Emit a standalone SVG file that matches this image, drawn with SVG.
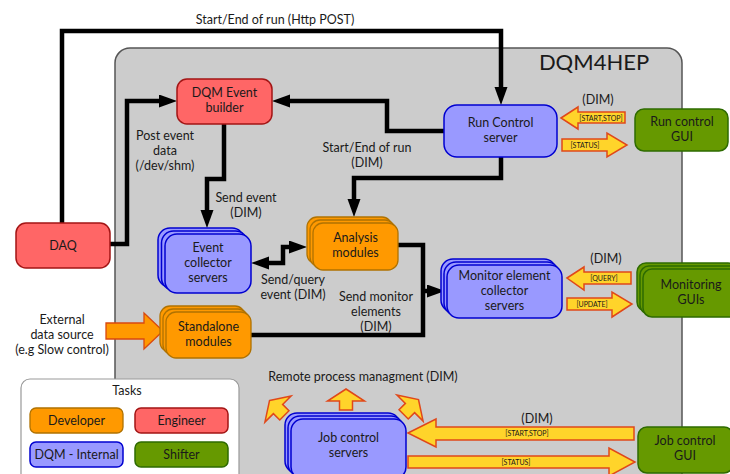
<svg xmlns="http://www.w3.org/2000/svg" width="730" height="474" viewBox="0 0 730 474">
<style>
text{font-family:Lato,"Open Sans","DejaVu Sans",sans-serif;font-size:12.5px;fill:#1a1a1a;text-anchor:middle}
.tiny{font-size:7px}
.red{fill:#ff6666;stroke:#a31515;stroke-width:1.5}
.blue{fill:#9999ff;stroke:#0000d0;stroke-width:1.5}
.orange{fill:#ff9900;stroke:#b07200;stroke-width:1.3}
.green{fill:#669900;stroke:#2e6b00;stroke-width:1.5}
.yarrow{fill:#ffd42a;stroke:#e0481a;stroke-width:1.5;stroke-linejoin:miter}
.conn{fill:none;stroke:#000;stroke-width:4.5;stroke-linejoin:miter}
</style>
<defs>
<marker id="ah" markerUnits="userSpaceOnUse" markerWidth="20" markerHeight="14" refX="8" refY="6.5" orient="auto-start-reverse">
<path d="M0,0 L18,6.5 L0,13 z" fill="#000"/>
</marker>
</defs>
<rect width="730" height="474" fill="#fff"/>
<g id="container">
<rect x="115" y="48" width="567" height="440" rx="15" fill="#cccccc" stroke="#555" stroke-width="1.5"/>
<text x="594" y="70" style="font-size:22px">DQM4HEP</text>
</g>
<g id="connectors">
<path class="conn" d="M62,223 V31 H501 V95" marker-end="url(#ah)"/>
<path class="conn" d="M110,244 H127 V101 H167" marker-end="url(#ah)"/>
<path class="conn" d="M444,131 H387 V101 H282" marker-end="url(#ah)"/>
<path class="conn" d="M501,157 V178 H354 V207" marker-end="url(#ah)"/>
<path class="conn" d="M224,124 V179 H207 V218" marker-end="url(#ah)"/>
<path class="conn" d="M261,263 H283 V247 H297" marker-start="url(#ah)" marker-end="url(#ah)"/>
<path class="conn" d="M398,245 H423 V335 H251"/>
<path class="conn" d="M421,291 H435" marker-end="url(#ah)"/>
</g>
<g id="labels">
<text x="275" y="24">Start/End of run (Http POST)</text>
<text x="165" y="140">Post event</text>
<text x="165" y="155">data</text>
<text x="165" y="170">(/dev/shm)</text>
<text x="246" y="202">Send event</text>
<text x="246" y="217">(DIM)</text>
<text x="367" y="152">Start/End of run</text>
<text x="367" y="167">(DIM)</text>
<text x="293" y="284">Send/query</text>
<text x="293" y="299">event (DIM)</text>
<text x="376" y="301">Send monitor</text>
<text x="376" y="316">elements</text>
<text x="376" y="331">(DIM)</text>
<text x="598" y="104">(DIM)</text>
<text x="606" y="263">(DIM)</text>
<text x="363" y="381">Remote process managment (DIM)</text>
<text x="537" y="423">(DIM)</text>
<text x="62" y="324">External</text>
<text x="62" y="339">data source</text>
<text x="62" y="354">(e.g Slow control)</text>
</g>
<g id="ext-arrow">
<polygon points="106,323 144,323 144,313 163,331 144,349 144,339 106,339" fill="#ff9900" stroke="#d9480f" stroke-width="1.3"/>
</g>
<g id="rc-arrows">
<polygon class="yarrow" points="561,118 578,107 578,112 625,112 625,123 578,123 578,129"/>
<text class="tiny" x="601" y="120.5">[START,STOP]</text>
<polygon class="yarrow" points="562,139 607,139 607,133 627,145 607,157 607,151 562,151"/>
<text class="tiny" x="585" y="147.5">[STATUS]</text>
</g>
<g id="mon-arrows">
<polygon class="yarrow" points="567,278 584,267 584,272 631,272 631,284 584,284 584,290"/>
<text class="tiny" x="604" y="280.5">[QUERY]</text>
<polygon class="yarrow" points="567,298 612,298 612,292 632,304 612,317 612,310 567,310"/>
<text class="tiny" x="592" y="306.5">[UPDATE]</text>
</g>
<g id="job-arrows">
<polygon class="yarrow" points="408,433 436,419 436,427 634,427 634,440 436,440 436,447"/>
<text class="tiny" x="527" y="436">[START,STOP]</text>
<polygon class="yarrow" points="408,456 609,456 609,448 635,462 609,476 609,468 408,468"/>
<text class="tiny" x="516" y="464.5">[STATUS]</text>
</g>
<g id="remote-arrows">
<polygon class="yarrow" points="346,389 364.5,401 352.5,401 352.5,410 339.5,410 339.5,401 327.5,401"/>
<polygon class="yarrow" transform="rotate(-45 278 409) translate(-68 8)" points="346,389 364.5,401 352.5,401 352.5,410 339.5,410 339.5,401 327.5,401"/>
<polygon class="yarrow" transform="rotate(45 410 408) translate(64 7)" points="346,389 364.5,401 352.5,401 352.5,410 339.5,410 339.5,401 327.5,401"/>
</g>
<g id="daq">
<rect class="red" x="16" y="223" width="94" height="45" rx="10"/>
<text x="63" y="250">DAQ</text>
</g>
<g id="event-builder">
<rect class="red" x="177" y="79" width="95" height="45" rx="10"/>
<text x="224.5" y="97">DQM Event</text>
<text x="224.5" y="112">builder</text>
</g>
<g id="run-control-server">
<rect class="blue" x="444" y="105" width="113" height="52" rx="13"/>
<text x="500.5" y="127">Run Control</text>
<text x="500.5" y="142">server</text>
</g>
<g id="run-control-gui">
<rect class="green" x="635" y="109" width="93" height="42" rx="9"/>
<text x="682" y="126">Run control</text>
<text x="682" y="141">GUI</text>
</g>
<g id="event-collector">
<rect class="blue" x="158" y="228" width="86" height="59" rx="12"/>
<rect class="blue" x="161.5" y="231" width="86" height="59" rx="12"/>
<rect class="blue" x="165" y="234" width="86" height="59" rx="12"/>
<text x="208" y="252">Event</text>
<text x="208" y="267">collector</text>
<text x="208" y="282">servers</text>
</g>
<g id="analysis">
<rect class="orange" x="307" y="217" width="85" height="47" rx="10"/>
<rect class="orange" x="310" y="220" width="85" height="47" rx="10"/>
<rect class="orange" x="313" y="223" width="85" height="47" rx="10"/>
<text x="355.5" y="242">Analysis</text>
<text x="355.5" y="257">modules</text>
</g>
<g id="standalone">
<rect class="orange" x="160" y="306" width="85" height="46" rx="10"/>
<rect class="orange" x="163" y="309" width="85" height="46" rx="10"/>
<rect class="orange" x="166" y="312" width="85" height="46" rx="10"/>
<text x="208.5" y="331">Standalone</text>
<text x="208.5" y="346">modules</text>
</g>
<g id="monitor-collector">
<rect class="blue" x="441" y="259" width="115" height="53" rx="12"/>
<rect class="blue" x="444" y="262" width="115" height="53" rx="12"/>
<rect class="blue" x="447" y="265" width="115" height="53" rx="12"/>
<text x="504.5" y="280">Monitor element</text>
<text x="504.5" y="295">collector</text>
<text x="504.5" y="310">servers</text>
</g>
<g id="monitoring-guis">
<rect class="green" x="637" y="263" width="100" height="48" rx="9"/>
<rect class="green" x="640" y="266" width="100" height="48" rx="9"/>
<rect class="green" x="643" y="269" width="100" height="48" rx="9"/>
<text x="691" y="289">Monitoring</text>
<text x="691" y="304">GUIs</text>
</g>
<g id="job-control-servers">
<rect class="blue" x="285" y="413" width="115" height="60" rx="12"/>
<rect class="blue" x="288" y="416" width="115" height="60" rx="12"/>
<rect class="blue" x="291" y="419" width="115" height="60" rx="12"/>
<text x="348.5" y="442">Job control</text>
<text x="348.5" y="457">servers</text>
</g>
<g id="job-control-gui">
<rect class="green" x="638" y="427" width="95" height="46" rx="9"/>
<text x="685" y="445">Job control</text>
<text x="685" y="460">GUI</text>
</g>
<g id="legend">
<rect x="21" y="379" width="218" height="105" rx="9" fill="#fff" stroke="#999" stroke-width="1.2"/>
<text x="127" y="395">Tasks</text>
<rect class="orange" x="30" y="408" width="93" height="25" rx="6"/>
<text x="76.5" y="425">Developer</text>
<rect class="red" x="135" y="408" width="93" height="25" rx="6"/>
<text x="181.5" y="425">Engineer</text>
<rect class="blue" x="30" y="442" width="93" height="25" rx="6"/>
<text x="76.5" y="459">DQM - Internal</text>
<rect class="green" x="135" y="442" width="93" height="25" rx="6"/>
<text x="181.5" y="459">Shifter</text>
</g>
</svg>
